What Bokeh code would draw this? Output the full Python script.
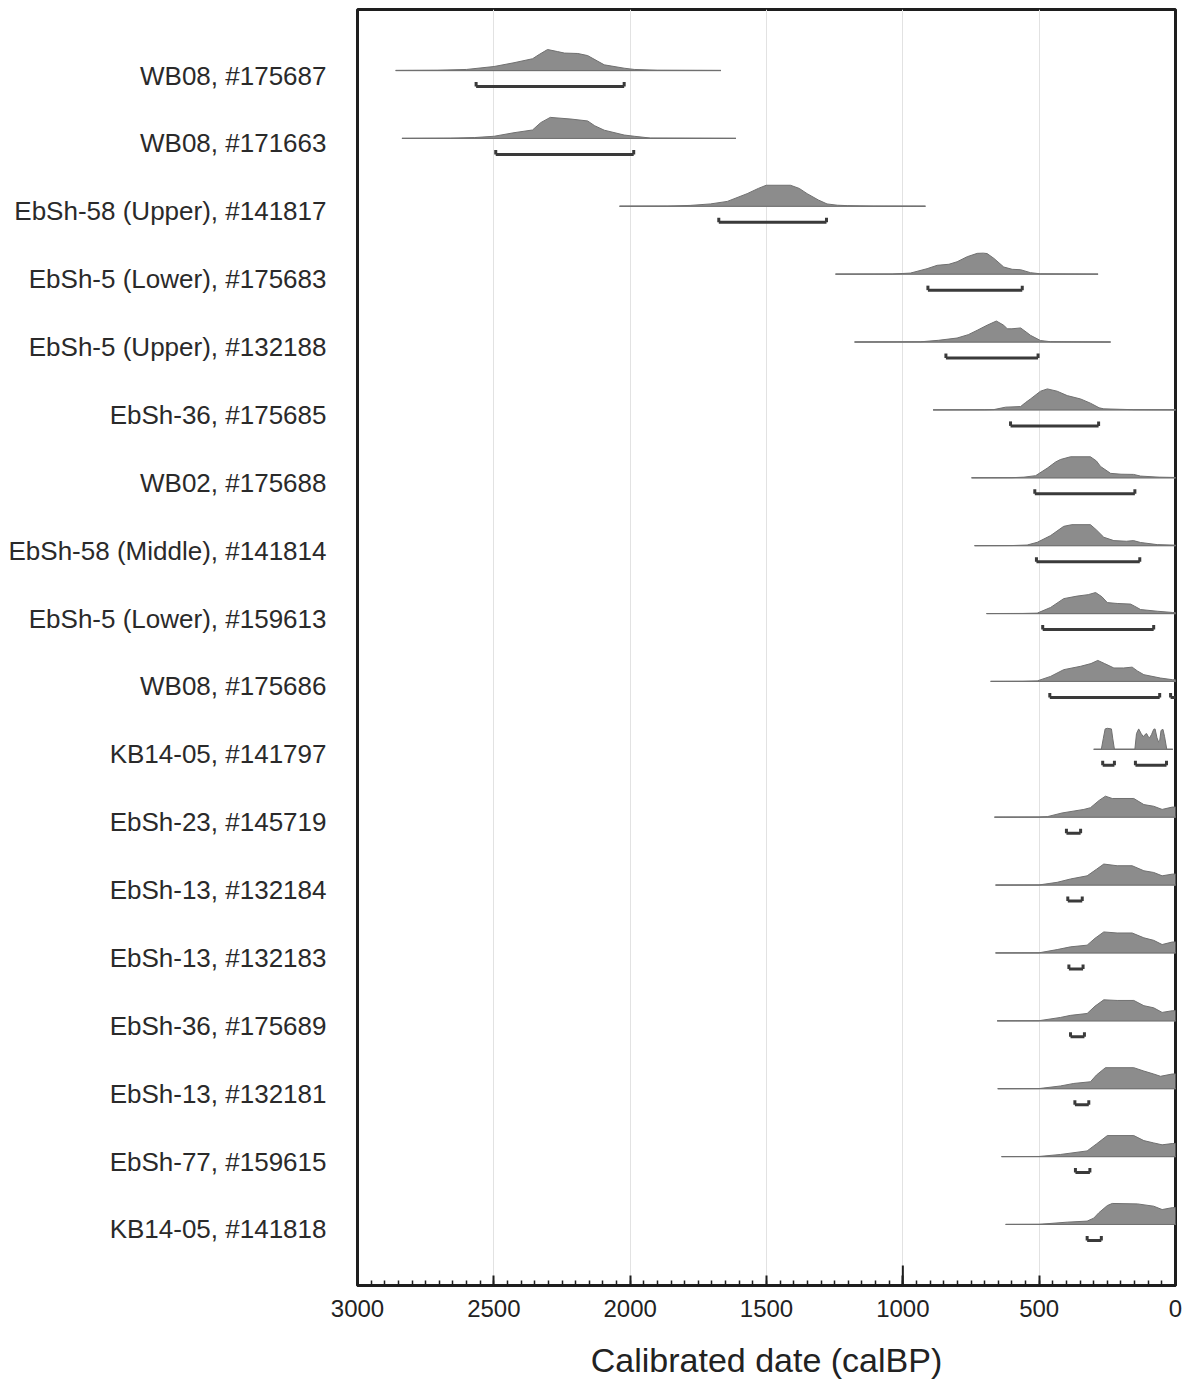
from bokeh.plotting import figure
from bokeh.models import Range1d, SingleIntervalTicker, FixedTicker, CustomJSTickFormatter
from bokeh.embed import file_html
from bokeh.resources import INLINE

# ---------------- data ----------------
labels = [
    "WB08, #175687", "WB08, #171663", "EbSh-58 (Upper), #141817",
    "EbSh-5 (Lower), #175683", "EbSh-5 (Upper), #132188", "EbSh-36, #175685",
    "WB02, #175688", "EbSh-58 (Middle), #141814", "EbSh-5 (Lower), #159613",
    "WB08, #175686", "KB14-05, #141797", "EbSh-23, #145719",
    "EbSh-13, #132184", "EbSh-13, #132183", "EbSh-36, #175689",
    "EbSh-13, #132181", "EbSh-77, #159615", "KB14-05, #141818",
]

# calibrated probability densities (calBP, relative density)
dens_dates = [
    [2860, 2707, 2600, 2499, 2426, 2358, 2334, 2303, 2266, 2241, 2192, 2156, 2120, 2095, 2022, 1985, 1900, 1667],
    [2837, 2659, 2570, 2499, 2426, 2358, 2328, 2293, 2217, 2156, 2130, 2095, 2022, 1985, 1925, 1612],
    [2039, 1864, 1780, 1706, 1644, 1571, 1530, 1501, 1412, 1380, 1351, 1310, 1278, 1240, 1204, 1107, 917],
    [1247, 1039, 972, 911, 874, 831, 801, 764, 727, 705, 691, 666, 630, 599, 568, 532, 495, 284],
    [1177, 935, 870, 801, 760, 727, 691, 657, 630, 617, 600, 568, 545, 532, 495, 458, 238],
    [889, 700, 666, 623, 568, 550, 532, 495, 470, 434, 397, 348, 312, 280, 263, 153, -60],
    [748, 600, 556, 513, 470, 440, 422, 385, 312, 290, 275, 238, 200, 154, 128, 60, 0, -60],
    [737, 600, 544, 507, 458, 410, 380, 312, 290, 263, 226, 180, 154, 128, 67, 0, -60],
    [693, 560, 507, 458, 410, 361, 320, 293, 270, 250, 214, 165, 150, 128, 67, 10, -60],
    [678, 560, 507, 458, 410, 348, 310, 285, 260, 226, 190, 159, 140, 116, 55, 10, -60],
    [300, 272, 265, 258, 250, 235, 230, 224, 149, 143, 135, 126, 118, 112, 106, 100, 95, 88, 80, 75, 68, 62, 58, 53, 46, 40, 32, 10],
    [664, 501, 470, 416, 336, 312, 280, 257, 232, 153, 116, 80, 49, 12, -60],
    [660, 501, 434, 385, 324, 290, 263, 214, 159, 116, 80, 49, 12, -60],
    [660, 501, 434, 385, 324, 295, 263, 214, 159, 116, 80, 49, 12, -60],
    [654, 501, 422, 385, 324, 295, 263, 214, 153, 116, 80, 49, 12, -60],
    [652, 501, 422, 373, 312, 290, 257, 153, 116, 80, 55, 12, -60],
    [638, 501, 422, 324, 290, 250, 153, 116, 80, 49, 12, -60],
    [623, 501, 397, 324, 300, 281, 250, 232, 140, 80, 49, 12, -60],
]
dens_probs = [
    [0, 0.01, 0.05, 0.19, 0.37, 0.56, 0.76, 1.0, 0.9, 0.83, 0.81, 0.71, 0.45, 0.27, 0.11, 0.05, 0.01, 0],
    [0, 0.01, 0.04, 0.1, 0.27, 0.4, 0.75, 1.0, 0.92, 0.83, 0.6, 0.39, 0.16, 0.1, 0.015, 0],
    [0, 0.005, 0.04, 0.11, 0.23, 0.6, 0.85, 1.0, 1.0, 0.85, 0.6, 0.3, 0.11, 0.05, 0.03, 0.005, 0],
    [0, 0.005, 0.05, 0.26, 0.42, 0.47, 0.59, 0.83, 0.99, 1.0, 0.98, 0.75, 0.34, 0.23, 0.21, 0.07, 0.015, 0],
    [0, 0.01, 0.08, 0.19, 0.35, 0.56, 0.8, 1.0, 0.8, 0.63, 0.63, 0.67, 0.45, 0.32, 0.07, 0.015, 0],
    [0, 0.005, 0.015, 0.13, 0.16, 0.35, 0.52, 0.89, 1.0, 0.89, 0.68, 0.52, 0.32, 0.1, 0.05, 0.01, 0],
    [0, 0.005, 0.03, 0.1, 0.46, 0.75, 0.87, 1.0, 1.0, 0.8, 0.54, 0.21, 0.17, 0.16, 0.08, 0.03, 0.015, 0.01],
    [0, 0.005, 0.03, 0.16, 0.48, 0.92, 1.0, 1.0, 0.75, 0.4, 0.24, 0.21, 0.24, 0.15, 0.05, 0.025, 0.02],
    [0, 0.005, 0.02, 0.29, 0.71, 0.83, 0.9, 1.0, 0.8, 0.52, 0.48, 0.45, 0.35, 0.19, 0.11, 0.05, 0.04],
    [0, 0.005, 0.025, 0.24, 0.56, 0.72, 0.85, 1.0, 0.85, 0.64, 0.64, 0.68, 0.5, 0.32, 0.16, 0.08, 0.06],
    [0, 0, 0.5, 0.97, 1.0, 0.97, 0.5, 0, 0, 0.75, 0.97, 0.75, 0.6, 0.7, 0.75, 0.6, 0.55, 0.7, 0.95, 0.97, 0.55, 0.35, 0.4, 0.9, 0.95, 0.6, 0, 0],
    [0, 0.005, 0.025, 0.2, 0.37, 0.45, 0.8, 1.0, 0.89, 0.89, 0.6, 0.52, 0.37, 0.48, 0.5],
    [0, 0.005, 0.13, 0.29, 0.44, 0.75, 1.0, 0.92, 0.92, 0.68, 0.6, 0.44, 0.52, 0.55],
    [0, 0.005, 0.16, 0.29, 0.37, 0.7, 1.0, 0.95, 0.95, 0.72, 0.6, 0.4, 0.52, 0.55],
    [0, 0.005, 0.16, 0.26, 0.35, 0.7, 1.0, 0.97, 0.97, 0.72, 0.62, 0.4, 0.48, 0.5],
    [0, 0.005, 0.13, 0.25, 0.33, 0.65, 1.0, 1.0, 0.84, 0.7, 0.59, 0.7, 0.72],
    [0, 0.005, 0.1, 0.27, 0.6, 1.0, 1.0, 0.76, 0.65, 0.56, 0.62, 0.64],
    [0, 0.005, 0.11, 0.16, 0.3, 0.56, 0.9, 1.0, 0.98, 0.87, 0.71, 0.8, 0.82],
]

# highest-density ranges (row index, older bound, younger bound)
hpd_row = [0, 1, 2, 3, 4, 5, 6, 7, 8, 9, 9, 10, 10, 11, 12, 13, 14, 15, 16, 17]
hpd_from = [2565, 2493, 1675, 908, 842, 605, 516, 510, 487, 461, 18, 267, 147, 400, 395, 391, 385, 369, 367, 324]
hpd_to = [2022, 1987, 1280, 562, 504, 282, 149, 131, 80, 58, -100, 224, 33, 348, 342, 339, 334, 318, 314, 272]

x_ticks_major = 500
marker_date = 1000

# ---------------- layout constants ----------------
ROW_PX = 67.88
PEAK = 21.0 / ROW_PX
BR_DROP = 16.0 / ROW_PX
BR_TICK = 4.5 / ROW_PX
LABEL_DROP = 5.0 / ROW_PX
Y_TOP = 61.0 / ROW_PX
Y_BOT = Y_TOP - 1276.0 / ROW_PX

FONT = "Liberation Sans"

p = figure(width=1188, height=1383,
           x_range=Range1d(3000, 0), y_range=Range1d(Y_BOT, Y_TOP),
           output_backend="svg", toolbar_location=None,
           min_border_left=357, min_border_right=13,
           min_border_top=9, min_border_bottom=98)

p.outline_line_color = "#1e1e1e"
p.outline_line_width = 3
p.background_fill_color = "white"
p.border_fill_color = "white"

# grid
p.ygrid.grid_line_color = None
p.xgrid.ticker = SingleIntervalTicker(interval=x_ticks_major)
p.xgrid.grid_line_color = "#e2e2e2"
p.xgrid.grid_line_width = 1

# x axis
xa = p.xaxis[0]
xa.ticker = SingleIntervalTicker(interval=x_ticks_major, num_minor_ticks=10)
xa.axis_label = "Calibrated date (calBP)"
xa.axis_label_text_font = FONT
xa.axis_label_text_font_size = "34px"
xa.axis_label_text_font_style = "normal"
xa.axis_label_text_color = "#222222"
xa.axis_label_standoff = 21
xa.major_label_text_font = FONT
xa.major_label_text_font_size = "24px"
xa.major_label_text_color = "#222222"
xa.major_label_standoff = 14
xa.axis_line_color = "#1e1e1e"
xa.axis_line_width = 3
xa.major_tick_in = 10
xa.major_tick_out = 0
xa.major_tick_line_width = 2
xa.major_tick_line_color = "#1e1e1e"
xa.minor_tick_in = 5
xa.minor_tick_out = 0
xa.minor_tick_line_width = 1.5
xa.minor_tick_line_color = "#1e1e1e"

# y axis with sample labels
n = len(labels)
ya = p.yaxis[0]
ya.ticker = FixedTicker(ticks=[-k - LABEL_DROP for k in range(n)], minor_ticks=[])
ya.formatter = CustomJSTickFormatter(args=dict(labels=labels),
                                     code="return labels[Math.round(-tick)];")
ya.major_label_text_font = FONT
ya.major_label_text_font_size = "26px"
ya.major_label_text_color = "#2a2a2a"
ya.major_label_standoff = 31
ya.major_tick_in = 0
ya.major_tick_out = 0
ya.major_tick_line_color = None
ya.minor_tick_line_color = None
ya.axis_line_color = None

# densities
pxs, pys, bx0, bx1, by = [], [], [], [], []
for k in range(n):
    y0 = -k
    d = dens_dates[k]
    pr = dens_probs[k]
    pxs.append([d[0]] + list(d) + [d[-1]])
    pys.append([y0] + [y0 + v * PEAK for v in pr] + [y0])
    bx0.append(d[0])
    bx1.append(d[-1])
    by.append(y0)

p.segment(x0=bx0, y0=by, x1=bx1, y1=by, line_color="#9c9c9c", line_width=1.3)
p.patches(xs=pxs, ys=pys, fill_color="#8c8c8c", fill_alpha=1.0,
          line_color="#707070", line_width=1)

# HPD brackets
hy = [-r - BR_DROP for r in hpd_row]
hy_top = [v + BR_TICK for v in hy]
p.segment(x0=hpd_from, y0=hy, x1=hpd_to, y1=hy, line_color="#3a3a3a", line_width=3)
p.segment(x0=hpd_from, y0=hy, x1=hpd_from, y1=hy_top, line_color="#3a3a3a", line_width=3)
p.segment(x0=hpd_to, y0=hy, x1=hpd_to, y1=hy_top, line_color="#3a3a3a", line_width=3)

# taller marker tick on the date axis
p.segment(x0=[marker_date], y0=[Y_BOT], x1=[marker_date], y1=[Y_BOT + 20.0 / ROW_PX],
          line_color="#1e1e1e", line_width=2)

open("out.html", "w").write(file_html(p, INLINE))
